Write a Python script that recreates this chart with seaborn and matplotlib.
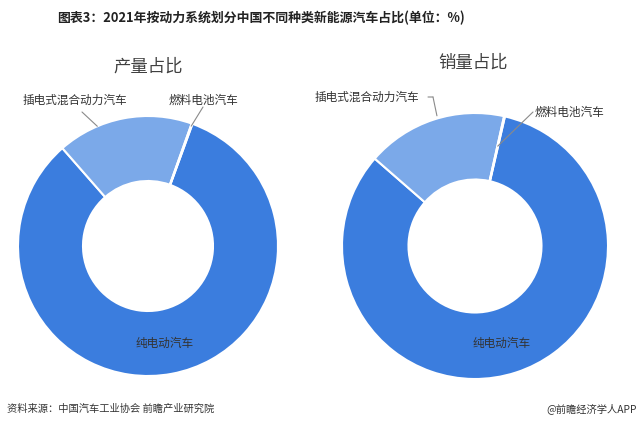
import numpy as np
import matplotlib
matplotlib.use("Agg")
import matplotlib.pyplot as plt
import seaborn as sns

# 2021年按动力系统划分 (%)
categories = ["纯电动汽车", "插电式混合动力汽车", "燃料电池汽车"]
production_share = [83.0, 16.9, 0.1]
sales_share = [82.8, 17.1, 0.1]
panel_titles = ["产量占比", "销量占比"]

sns.set_theme(style="white")
plt.rcParams["font.family"] = ["Noto Sans CJK SC", "DejaVu Sans"]

W, H = 641, 428
fig = plt.figure(figsize=(W / 100, H / 100), dpi=100)
fig.patch.set_facecolor("white")

colors = ["#3B7DDE", "#7BA9E9", "#3B7DDE"]


def px(x, y):
    return x / W, 1 - y / H


def donut(center, r, shares, startangle):
    cx, cy = center
    ax = fig.add_axes([(cx - r) / W, (H - cy - r) / H, 2 * r / W, 2 * r / H])
    wedges, _ = ax.pie(shares, colors=colors, startangle=startangle, counterclock=False,
                       radius=1, wedgeprops=dict(width=0.5, edgecolor="white", linewidth=1.5))
    ax.set_xlim(-1, 1)
    ax.set_ylim(-1, 1)
    ax.set_aspect("equal")
    ax.axis("off")
    return ax, wedges


def edge_point(wedge, frac, rad):
    ang = np.deg2rad(wedge.theta1 + frac * (wedge.theta2 - wedge.theta1))
    return rad * np.cos(ang), rad * np.sin(ang)


ax1, w1 = donut((148, 246), 130, production_share, 70)
ax2, w2 = donut((475, 246), 133, sales_share, 77)

line_kw = dict(arrowstyle="-", color="#8a8a8a", lw=0.8, shrinkA=0, shrinkB=0)

# leader lines
ax1.annotate("", xy=edge_point(w1[1], 0.7, 1.0), xytext=(82, H - 112),
             textcoords="figure pixels", arrowprops=line_kw)
ax1.annotate("", xy=edge_point(w1[2], 0.5, 0.98), xytext=(203, H - 107),
             textcoords="figure pixels", arrowprops=line_kw)
ax2.annotate("", xy=edge_point(w2[1], 0.47, 1.02), xytext=(433, H - 97),
             textcoords="figure pixels", arrowprops=line_kw)
ax2.annotate("", xy=(433, H - 97), xycoords="figure pixels", xytext=(428, H - 97),
             textcoords="figure pixels", arrowprops=line_kw)
ax2.annotate("", xy=edge_point(w2[2], 0.5, 0.77), xytext=(533, H - 112),
             textcoords="figure pixels", arrowprops=line_kw)

lab = dict(fontsize=8.4, color="#333333", ha="center", va="center")
fig.text(*px(75, 100), categories[1], **lab)
fig.text(*px(203, 100), categories[2], **lab)
fig.text(*px(165, 343), categories[0], **lab)
fig.text(*px(367, 97), categories[1], **lab)
fig.text(*px(569, 112), categories[2], **lab)
fig.text(*px(502, 343), categories[0], **lab)

fig.text(*px(148, 67), panel_titles[0], fontsize=12.5, color="#404040", ha="center", va="center")
fig.text(*px(473, 63), panel_titles[1], fontsize=12.5, color="#404040", ha="center", va="center")

fig.text(*px(261, 18), "图表3：2021年按动力系统划分中国不同种类新能源汽车占比(单位：%)",
         fontsize=9.3, fontweight="bold", color="#222222", ha="center", va="center")

fig.text(*px(7, 409), "资料来源：中国汽车工业协会 前瞻产业研究院", fontsize=7.4,
         color="#333333", ha="left", va="center")
fig.text(*px(637, 409), "@前瞻经济学人APP", fontsize=7.4, color="#333333",
         ha="right", va="center")

fig.savefig("out.png", dpi=100, facecolor="white")
